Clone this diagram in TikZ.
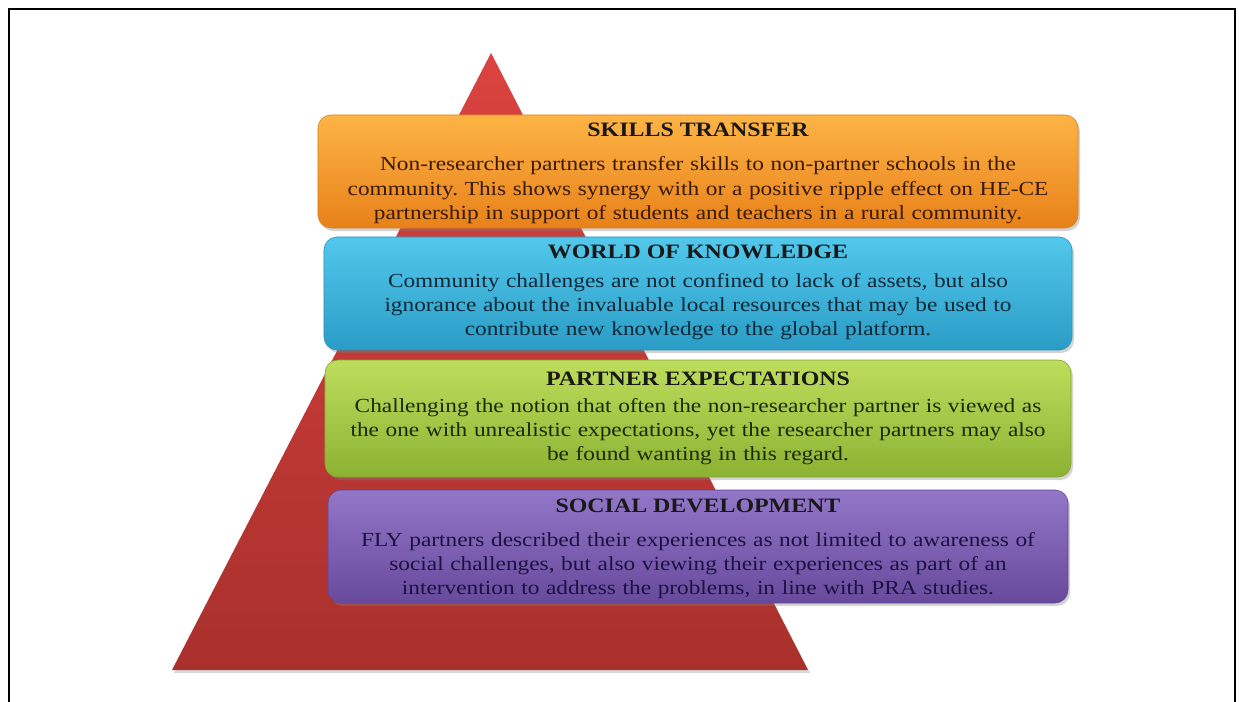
\documentclass[tikz,border=0pt]{standalone}
\usepackage{fontspec}
\setmainfont{Liberation Serif}[FakeStretch=1.17]
\usetikzlibrary{shadows}
\frenchspacing
\definecolor{frameblack}{HTML}{000000}
\definecolor{tritop}{HTML}{DA4340}
\definecolor{tribot}{HTML}{A9302C}
\definecolor{ortop}{HTML}{FDB445}
\definecolor{ormid}{HTML}{F7931E}
\definecolor{orbot}{HTML}{E8811A}
\definecolor{orline}{HTML}{D98020}
\definecolor{bltop}{HTML}{52C8EC}
\definecolor{blmid}{HTML}{2EB3DD}
\definecolor{blbot}{HTML}{2A9CC6}
\definecolor{blline}{HTML}{2A94BC}
\definecolor{grtop}{HTML}{BEDD5C}
\definecolor{grmid}{HTML}{A3C93D}
\definecolor{grbot}{HTML}{8CB233}
\definecolor{grline}{HTML}{84A832}
\definecolor{putop}{HTML}{9276C8}
\definecolor{pumid}{HTML}{7B5CB3}
\definecolor{pubot}{HTML}{684A9C}
\definecolor{puline}{HTML}{624694}
\definecolor{ortext}{HTML}{3A1A06}
\definecolor{bltext}{HTML}{0E2838}
\definecolor{grtext}{HTML}{1B2A08}
\definecolor{putext}{HTML}{1C1240}
\tikzset{
  box/.style={rounded corners=13bp, inner sep=0pt, line width=0.6bp,
    drop shadow={opacity=0.35, shadow xshift=2bp, shadow yshift=-3bp}},
  ttl/.style={anchor=base, inner sep=0pt, font=\fontsize{20.5}{25}\selectfont\bfseries\frenchspacing, text=black!90},
  body/.style={anchor=base, inner sep=0pt, text width=755bp, align=center,
    font=\fontsize{20}{24.5}\selectfont\frenchspacing},
}
\begin{document}
\begin{tikzpicture}[x=1bp,y=-1bp]
\useasboundingbox (0,0) rectangle (1239,702);
% frame
\draw[line width=2bp, frameblack] (9,702) -- (9,9) -- (1235,9) -- (1235,702);
% pyramid
\coordinate (apex) at (491,53);
\coordinate (bl) at (172,670);
\coordinate (br) at (808,670);
\shade[top color=tritop, bottom color=tribot,
  drop shadow={opacity=0.3, shadow xshift=2bp, shadow yshift=-3bp}]
  (apex) -- (br) -- (bl) -- cycle;
% boxes
\node[box, draw=orline, top color=ortop, middle color=ormid, bottom color=orbot,
  minimum width=760bp, minimum height=113bp] (b1) at (698,171.5) {};
\node[box, draw=blline, top color=bltop, middle color=blmid, bottom color=blbot,
  minimum width=748bp, minimum height=113bp] (b2) at (698,293.5) {};
\node[box, draw=grline, top color=grtop, middle color=grmid, bottom color=grbot,
  minimum width=746bp, minimum height=117bp] (b3) at (698,418.5) {};
\node[box, draw=puline, top color=putop, middle color=pumid, bottom color=pubot,
  minimum width=740bp, minimum height=113bp] (b4) at (698,546.5) {};
% texts
\node[ttl] (t1) at (698,137) {SKILLS TRANSFER};
\node[body, text=ortext] (d1) at (698,171) {Non-researcher partners transfer skills to non-partner schools in the\\community. This shows synergy with or a positive ripple effect on HE-CE\\partnership in support of students and teachers in a rural community.};
\node[ttl] (t2) at (698,258) {WORLD OF KNOWLEDGE};
\node[body, text=bltext] (d2) at (698,287) {Community challenges are not confined to lack of assets, but also\\ignorance about the invaluable local resources that may be used to\\contribute new knowledge to the global platform.};
\node[ttl] (t3) at (698,385) {PARTNER EXPECTATIONS};
\node[body, text=grtext] (d3) at (698,412) {Challenging the notion that often the non-researcher partner is viewed as\\the one with unrealistic expectations, yet the researcher partners may also\\be found wanting in this regard.};
\node[ttl] (t4) at (698,512) {SOCIAL DEVELOPMENT};
\node[body, text=putext] (d4) at (698,546) {FLY partners described their experiences as not limited to awareness of\\social challenges, but also viewing their experiences as part of an\\intervention to address the problems, in line with PRA studies.};
\end{tikzpicture}
\end{document}
